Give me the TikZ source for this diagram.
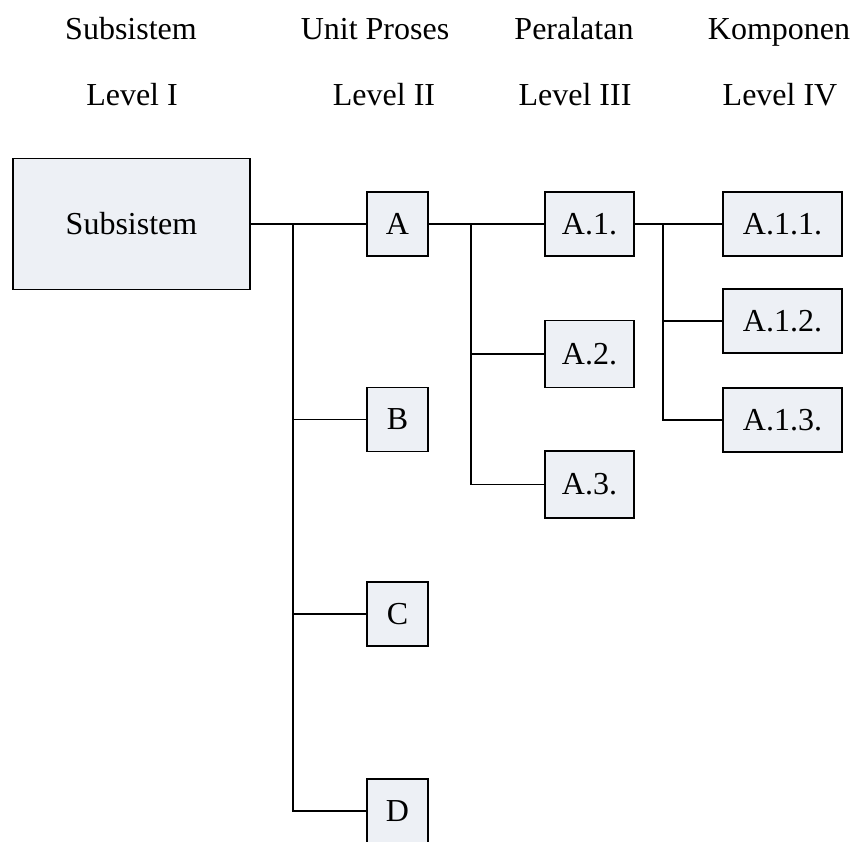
\documentclass[tikz,border=0pt]{standalone}
\usepackage{fontspec}
\setmainfont{Liberation Serif}
\usetikzlibrary{positioning}
\definecolor{boxfill}{RGB}{237,240,245}

\begin{document}
\begin{tikzpicture}[x=1pt,y=-1pt,
    every node/.style={font=\fontsize{32}{38}\selectfont},
    kop/.style={anchor=base},
    blok/.style={draw, line width=1.6pt, fill=boxfill, inner sep=0pt,
        minimum height=64pt},
    garis/.style={line width=1.6pt}]
\useasboundingbox (0,0) rectangle (858,841);

% Headers
\node[kop] (h1) at (131,39) {Subsistem};
\node[kop] (h2) at (375,39) {Unit Proses};
\node[kop] (h3) at (574,39) {Peralatan};
\node[kop] (h4) at (779,39) {Komponen};
\node[kop] (l1) at (132,105) {Level I};
\node[kop] (l2) at (384,105) {Level II};
\node[kop] (l3) at (575,105) {Level III};
\node[kop] (l4) at (780,105) {Level IV};

% Level I
\node[blok, minimum width=237pt, minimum height=131pt] (sub) at (131.5,224) {Subsistem};

% Level II
\node[blok, minimum width=61pt] (A) at (397.5,224) {A};
\node[blok, minimum width=61pt] (B) at (397.5,419.5) {B};
\node[blok, minimum width=61pt] (C) at (397.5,614) {C};
\node[blok, minimum width=61pt] (D) at (397.5,811) {D};

% Level III
\node[blok, minimum width=89pt] (A1) at (589.5,224) {A.1.};
\node[blok, minimum width=89pt, minimum height=67pt] (A2) at (589.5,354) {A.2.};
\node[blok, minimum width=89pt, minimum height=67pt] (A3) at (589.5,484.5) {A.3.};

% Level IV
\node[blok, minimum width=119pt] (A11) at (782.5,224) {A.1.1.};
\node[blok, minimum width=119pt] (A12) at (782.5,321) {A.1.2.};
\node[blok, minimum width=119pt] (A13) at (782.5,420) {A.1.3.};

% Connectors
\coordinate (t1) at (293,224);
\coordinate (t2) at (471,224);
\coordinate (t3) at (663,224);

\draw[garis] (sub.east) -- (A.west);
\draw[garis] (t1) |- (D.west);
\foreach \n in {B,C}
    \draw[garis] (t1 |- \n.west) -- (\n.west);

\draw[garis] (A.east) -- (A1.west);
\draw[garis] (t2) |- (A3.west);
\draw[garis] (t2 |- A2.west) -- (A2.west);

\draw[garis] (A1.east) -- (A11.west);
\draw[garis] (t3) |- (A13.west);
\draw[garis] (t3 |- A12.west) -- (A12.west);

\end{tikzpicture}
\end{document}
